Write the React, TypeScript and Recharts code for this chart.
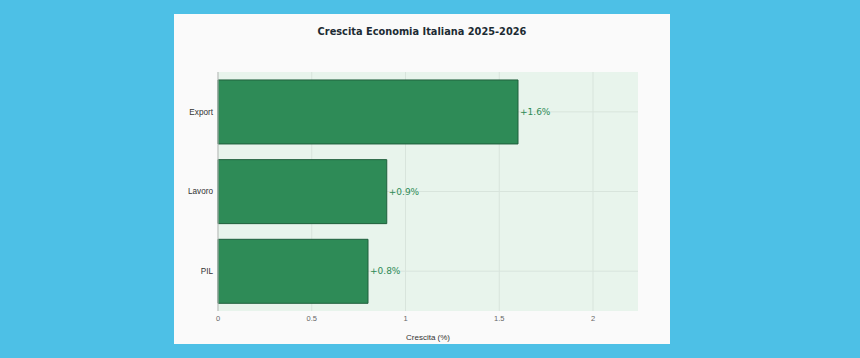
import { Bar, BarChart, CartesianGrid, LabelList, XAxis, YAxis } from 'recharts';

const categories = ['Export', 'Lavoro', 'PIL'];
const growth = [1.6, 0.9, 0.8];
const xTicks = [0, 0.5, 1, 1.5, 2];
const xMax = 2.24;

const data = categories.map((name, i) => ({ name, value: growth[i] }));

const gridColor = '#d8e4dc';

// grid lines only at the ticks, none on the plot edges
const verticalLines = (props: any) => {
  const s = props?.xAxis?.scale;
  if (typeof s === 'function') return xTicks.map((t) => s(t));
  const o = props.offset;
  return xTicks.map((t) => o.left + (t / xMax) * o.width);
};
const horizontalLines = (props: any) => {
  const s = props?.yAxis?.scale;
  if (typeof s === 'function' && typeof s.bandwidth === 'function') {
    return categories.map((c) => s(c) + s.bandwidth() / 2);
  }
  const o = props.offset;
  const band = o.height / categories.length;
  return categories.map((_, i) => o.top + band * (i + 0.5));
};

const App = (): JSX.Element => {
  return (
    <div style={{ position: 'fixed', inset: 0, width: 860, height: 358, background: '#4dc0e6' }}>
      <div
        style={{
          position: 'absolute',
          left: 174,
          top: 14,
          width: 496,
          height: 330,
          background: '#fafafa',
        }}
      >
        <div
          style={{
            position: 'absolute',
            top: 12,
            left: 0,
            width: 496,
            textAlign: 'center',
            fontFamily: 'DejaVu Sans, sans-serif',
            fontWeight: 'bold',
            fontSize: 9.8,
            color: '#1c2b33',
          }}
        >
          Crescita Economia Italiana 2025-2026
        </div>
        <BarChart
          width={496}
          height={330}
          data={data}
          layout="vertical"
          barCategoryGap="10%"
          margin={{ top: 58, right: 32, left: 0, bottom: 0 }}
          style={{ fontFamily: 'Liberation Sans, Arial, sans-serif' }}
        >
          <CartesianGrid
            fill="#e8f4ec"
            stroke={gridColor}
            verticalCoordinatesGenerator={verticalLines}
            horizontalCoordinatesGenerator={horizontalLines}
          />
          <XAxis
            type="number"
            domain={[0, xMax]}
            ticks={xTicks}
            height={33}
            axisLine={false}
            tickLine={false}
            tick={{ fontSize: 7.5, fill: '#666' }}
            tickMargin={-1}
            label={{ value: 'Crescita (%)', position: 'insideBottom', offset: 4, fontSize: 8, fill: '#333' }}
          />
          <YAxis
            type="category"
            dataKey="name"
            width={44}
            axisLine={{ stroke: '#bbb' }}
            tickLine={false}
            tick={{ fontSize: 8.2, fill: '#333' }}
            tickMargin={-1}
          />
          <Bar dataKey="value" fill="#2e8b57" stroke="#1f5f3c" strokeWidth={1} isAnimationActive={false}>
            <LabelList
              dataKey="value"
              position="right"
              offset={2}
              formatter={(v: number) => `+${v}%`}
              style={{ fontSize: 9, fill: '#2e8b57', fontFamily: 'DejaVu Sans, sans-serif' }}
            />
          </Bar>
        </BarChart>
      </div>
    </div>
  );
};

export default App;
